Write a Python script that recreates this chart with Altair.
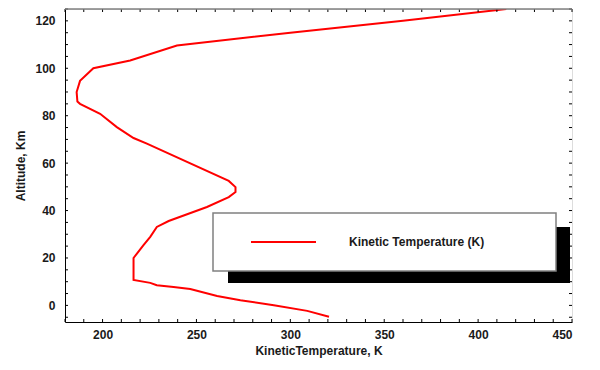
import altair as alt
import pandas as pd

# Temperature profile (K) vs altitude (km)
altitude = [-4.8, -2.3, 0.1, 2.2, 4.0, 6.9, 7.8, 8.5, 9.5, 10.7, 20.0, 25.4, 28.9,
            33.1, 35.6, 41.5, 45.7, 47.8, 49.9, 52.5, 68.2, 70.6, 75.2, 80.8, 85.0,
            86.0, 90.0, 94.7, 100.0, 103.3, 109.6, 115.0, 120.0, 125.0]
temperature = [320.6, 309.0, 291.2, 273.4, 261.0, 246.7, 237.8, 228.9, 225.4, 216.5,
               216.5, 221.8, 225.4, 228.9, 235.2, 255.6, 267.2, 270.8, 270.8, 267.2,
               223.6, 216.5, 207.6, 198.7, 188.0, 186.6, 186.2, 188.0, 195.1, 214.7,
               239.6, 300.0, 360.0, 415.0]

x_label_values = [200, 250, 300, 350, 400, 450]
y_label_values = [0, 20, 40, 60, 80, 100, 120]
x_tick_values = [180, 190, 200, 210, 220, 230, 240, 250, 260, 270, 280, 290, 300, 310,
                 320, 330, 340, 350, 360, 370, 380, 390, 400, 410, 420, 430, 440, 450]
y_tick_values = [-5, 0, 5, 10, 15, 20, 25, 30, 35, 40, 45, 50, 55, 60, 65, 70, 75, 80,
                 85, 90, 95, 100, 105, 110, 115, 120, 125]

legend_label = "Kinetic Temperature (K)"

W, H = 507, 313
FONT = "Liberation Sans"

df = pd.DataFrame({"alt": altitude, "T": temperature,
                   "i": list(range(len(altitude)))})
xt = pd.DataFrame({"v": x_tick_values})
yt = pd.DataFrame({"v": y_tick_values})
one = pd.DataFrame({"label": [legend_label]})

xscale = alt.Scale(domain=[180, 450], nice=False, zero=False)
yscale = alt.Scale(domain=[-7, 125], nice=False, zero=False)

line = alt.Chart(df).mark_line(color="#ff0000", strokeWidth=2, clip=True).encode(
    x=alt.X("T:Q", scale=xscale, title="KineticTemperature, K",
            axis=alt.Axis(values=x_label_values, ticks=False, grid=False,
                          labelPadding=7, titlePadding=5, domainColor="black",
                          labelFont=FONT, labelFontSize=12, labelFontWeight="bold",
                          labelColor="#1a1a1a", titleFont=FONT, titleFontSize=12,
                          titleFontWeight="bold", titleColor="#1a1a1a")),
    y=alt.Y("alt:Q", scale=yscale, title="Altitude, Km",
            axis=alt.Axis(values=y_label_values, ticks=False, grid=False,
                          labelPadding=10, titlePadding=7, domainColor="black",
                          labelFont=FONT, labelFontSize=12, labelFontWeight="bold",
                          labelColor="#1a1a1a", titleFont=FONT, titleFontSize=12,
                          titleFontWeight="bold", titleColor="#1a1a1a")),
    order="i:Q",
)

tk = dict(color="black", strokeWidth=1)
bottom_ticks = alt.Chart(xt).mark_rule(**tk).encode(
    x=alt.X("v:Q", scale=xscale), y=alt.value(H), y2=alt.value(H - 3))
top_ticks = alt.Chart(xt).mark_rule(**tk).encode(
    x=alt.X("v:Q", scale=xscale), y=alt.value(0), y2=alt.value(3))
left_ticks = alt.Chart(yt).mark_rule(**tk).encode(
    y=alt.Y("v:Q", scale=yscale), x=alt.value(0), x2=alt.value(3))
right_ticks = alt.Chart(yt).mark_rule(**tk).encode(
    y=alt.Y("v:Q", scale=yscale), x=alt.value(W), x2=alt.value(W - 3))
top_border = alt.Chart(one).mark_rule(color="#808080", strokeWidth=1.5).encode(
    x=alt.value(0), x2=alt.value(W), y=alt.value(0))

shadow = alt.Chart(one).mark_rect(color="black").encode(
    x=alt.value(163), x2=alt.value(505), y=alt.value(218), y2=alt.value(274))
box = alt.Chart(one).mark_rect(fill="white", stroke="#808080", strokeWidth=1.5).encode(
    x=alt.value(148), x2=alt.value(491), y=alt.value(204), y2=alt.value(262))
leg_line = alt.Chart(one).mark_rule(color="#ff0000", strokeWidth=2).encode(
    x=alt.value(186), x2=alt.value(251), y=alt.value(233))
leg_text = alt.Chart(one).mark_text(align="left", baseline="middle", font=FONT,
                                    fontSize=12, fontWeight="bold",
                                    color="#1a1a1a").encode(
    x=alt.value(284), y=alt.value(233), text="label:N")

chart = alt.layer(
    line, bottom_ticks, top_ticks, left_ticks, right_ticks, top_border,
    shadow, box, leg_line, leg_text
).properties(
    width=W, height=H,
    autosize=alt.AutoSizeParams(type="none"),
    padding={"left": 57, "top": 1, "right": 20, "bottom": 40},
).configure_view(stroke="black", strokeWidth=1).configure(background="white")

chart.save("out.html", embed_options={"renderer": "svg", "actions": False})
